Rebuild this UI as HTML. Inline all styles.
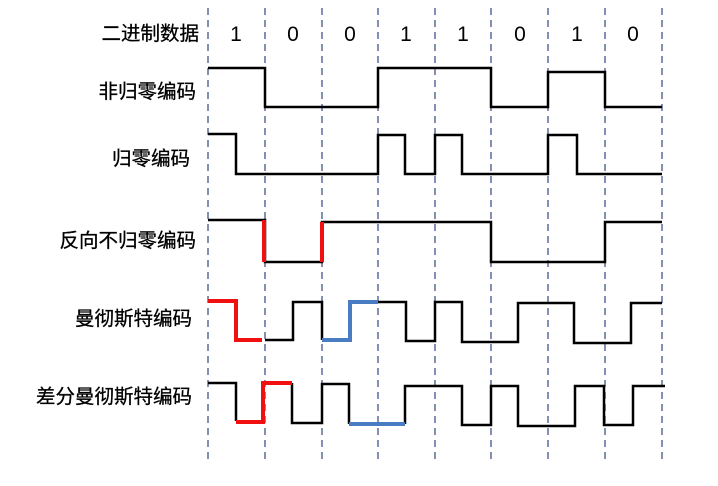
<!DOCTYPE html><html><head><meta charset="utf-8"><style>body{margin:0;background:#fff}</style></head><body>
<svg width="718" height="486" xmlns="http://www.w3.org/2000/svg" style="display:block">
<g stroke="#5a6a9a" stroke-width="1.5" stroke-dasharray="7,5">
<line x1="208" y1="8" x2="208" y2="460"/><line x1="265" y1="8" x2="265" y2="460"/><line x1="322" y1="8" x2="322" y2="460"/><line x1="378" y1="8" x2="378" y2="460"/><line x1="435" y1="8" x2="435" y2="460"/><line x1="491" y1="8" x2="491" y2="460"/><line x1="548" y1="8" x2="548" y2="460"/><line x1="605" y1="8" x2="605" y2="460"/><line x1="662" y1="8" x2="662" y2="460"/>
</g>
<g font-family="Liberation Sans, Noto Sans CJK SC, sans-serif" font-size="19.5" fill="#000" text-anchor="end" stroke="#000" stroke-width="0.3">
<text x="199" y="40">二进制数据</text>
<text x="196" y="98">非归零编码</text>
<text x="190" y="165">归零编码</text>
<text x="196" y="247">反向不归零编码</text>
<text x="192" y="325">曼彻斯特编码</text>
<text x="192" y="403">差分曼彻斯特编码</text>
</g>
<g font-family="Liberation Sans, sans-serif" font-size="21" text-anchor="middle">
<text x="236" y="41">1</text><text x="293" y="41">0</text><text x="350" y="41">0</text><text x="406" y="41">1</text><text x="463" y="41">1</text><text x="520" y="41">0</text><text x="577" y="41">1</text><text x="633" y="41">0</text>
</g>
<g fill="none" stroke="#000" stroke-width="2.5">
<polyline points="208,68 265,68 265,107 378,107 378,68 491,68 491,107 548,107 548,72 605,72 605,107 662,107"/>
<polyline points="208,134 236,134 236,174 378,174 378,135 405,135 405,174 435,174 435,135 462,135 462,174 548,174 548,135 577,135 577,174 662,174"/>
<polyline points="208,220 265,220 265,262 322,262 322,222 491,222 491,262 605,262 605,222 662,222"/>
<polyline points="265,340 293,340 293,302 322,302 322,340"/>
<polyline points="378,302 406,302 406,341 435,341 435,302 462,302 462,342 518,342 518,303 574,303 574,343 631,343 631,303 662,303"/>
<polyline points="208,383 236,383 236,421"/>
<polyline points="292,383 292,423 322,423 322,384 349,384 349,424"/>
<polyline points="405,424 405,386 462,386 462,425 491,425 491,386 518,386 518,426 575,426 575,386 604,386 604,425 633,425 633,386 665,386"/>
</g>
<g fill="none" stroke="#f01010" stroke-width="4">
<polyline points="208,301 236,301 236,340 262,340"/>
<polyline points="236,422 263,422 263,383 292,383"/>
<line x1="264" y1="220" x2="264" y2="262"/><line x1="322" y1="222" x2="322" y2="262"/>
</g>
<g fill="none" stroke="#4a7cc4" stroke-width="4">
<polyline points="322,340 350,340 350,302 378,302"/>
<polyline points="349,424 405,424"/>
</g>
</svg>
</body></html>
